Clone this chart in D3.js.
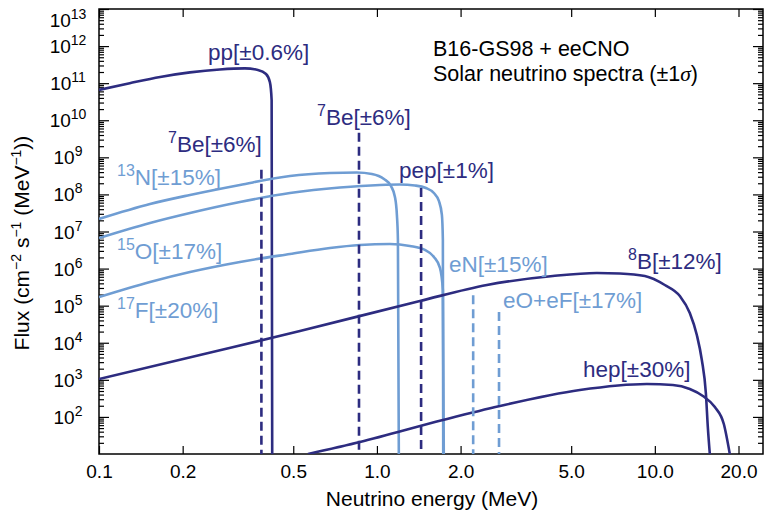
<!DOCTYPE html>
<html>
<head>
<meta charset="utf-8">
<script src="https://cdn.jsdelivr.net/npm/d3@7"></script>
<style>
  body { margin: 0; background: #fff; }
  text { font-family: "Liberation Sans", Arial, sans-serif; }
</style>
</head>
<body>
<div class="chart-container"></div>
<script>
//! CONSTS
const WIDTH = 765
const HEIGHT = 515
const LEFT = 99, RIGHT = 763, TOP = 9, BOTTOM = 454
const DARK = '#2d2c80'
const LIGHT = '#6f9dd3'

//! DATA  (energy in MeV, flux in cm^-2 s^-1 MeV^-1)
const ppE = [0.1, 0.129, 0.166, 0.2125, 0.272, 0.335, 0.373, 0.399, 0.412, 0.418, 0.42]
const ppFlux = [6.6e10, 1.0e11, 1.47e11, 1.95e11, 2.34e11, 2.5e11, 2.27e11, 1.77e11, 1.07e11, 3.5e10, 10]

const n13E = [0.1, 0.1526, 0.2125, 0.3215, 0.4865, 0.6776, 0.847, 0.959, 1.06, 1.123, 1.161, 1.18, 1.19, 1.199]
const n13Flux = [2.18e7, 5.52e7, 9.66e7, 1.8e8, 3.14e8, 3.78e8, 3.91e8, 3.56e8, 2.61e8, 1.69e8, 8.53e7, 2.79e7, 5.9e6, 10]

const o15E = [0.1, 0.1526, 0.2125, 0.3215, 0.4865, 0.736, 1.025, 1.21, 1.37, 1.501, 1.603, 1.671, 1.713, 1.727, 1.732]
const o15Flux = [6.68e6, 1.7e7, 3.16e7, 6.25e7, 1.09e8, 1.54e8, 1.8e8, 1.85e8, 1.74e8, 1.49e8, 1.09e8, 6.66e7, 2.79e7, 5.9e6, 10]

const f17E = [0.1, 0.1526, 0.2125, 0.3215, 0.4865, 0.6776, 0.8688, 1.114, 1.314, 1.488, 1.603, 1.686, 1.727, 1.74]
const f17Flux = [1.71e5, 4.36e5, 8.09e5, 1.51e6, 2.48e6, 3.6e6, 4.33e6, 4.6e6, 4.06e6, 3.18e6, 2.06e6, 1.04e6, 2.65e5, 10]

const b8E = [0.1, 0.2308, 0.5285, 1.428, 2.487, 4.296, 6.185, 7.482, 9.205, 10.86, 12.3, 13.36, 14.16, 14.76, 15.26, 15.51, 15.77]
const b8Flux = [1.05e3, 4.68e3, 2.07e4, 1.34e5, 3.61e5, 6.31e5, 7.6e5, 7.38e5, 6.31e5, 3.61e5, 1.82e5, 6.35e4, 1.62e4, 3.43e3, 442, 53.5, 10]

const hepE = [0.5647, 0.8688, 1.727, 2.77, 5.372, 9.355, 11.61, 13.36, 14.89, 16.44, 17.71, 18.61]
const hepFlux = [10, 21.1, 82.6, 197, 532, 773, 726, 566, 366, 185, 64.4, 10]

// mono-energetic lines: 7Be, 7Be, pep, eN, eO+eF
const lineE = [0.384, 0.862, 1.442, 2.22, 2.75]
const lineFlux = [4.6e8, 4.6e9, 1.5e8, 1.9e5, 6.8e4]

const xTicks = [0.1, 0.2, 0.5, 1, 2, 5, 10, 20]
const xTickLabels = ['0.1', '0.2', '0.5', '1.0', '2.0', '5.0', '10.0', '20.0']
const yExponents = [2, 3, 4, 5, 6, 7, 8, 9, 10, 11, 12, 13]

//! SVG
const svg = d3.select('.chart-container')
  .append('svg')
  .attr('width', WIDTH)
  .attr('height', HEIGHT)

//! SCALES
const x = d3.scaleLog().domain([0.1, 24.5]).range([LEFT, RIGHT])
const y = d3.scaleLog().domain([10, 1e13]).range([BOTTOM, TOP])

svg.append('clipPath').attr('id', 'plot')
  .append('rect')
  .attr('x', LEFT).attr('y', TOP)
  .attr('width', RIGHT - LEFT).attr('height', BOTTOM - TOP)

// minor ticks 2..9 of every decade
const minor = []
for (let e = 1; e < 13; e++) for (let m = 2; m < 10; m++) minor.push(m * Math.pow(10, e))

// text with superscripts: parts = [[string, isSup], ...]
function supText(g, parts, size, supSize, rise) {
  parts.forEach(([s, sup], i) => {
    const prevSup = i > 0 && parts[i - 1][1]
    const ts = g.append('tspan').text(s)
    if (sup) ts.attr('font-size', supSize).attr('dy', -rise)
    else if (prevSup) ts.attr('dy', rise)
  })
  return g
}

//! AXES
function styleAxis(g) {
  g.select('.domain').remove()
  g.selectAll('line').attr('stroke', '#000').attr('stroke-width', 1.2)
}

svg.append('g')
  .attr('transform', `translate(0,${BOTTOM})`)
  .call(d3.axisBottom(x).tickValues(xTicks).tickSize(-8).tickPadding(10.5)
    .tickFormat((d, i) => xTickLabels[i]))
  .call(styleAxis)
  .call(g => g.selectAll('text')
    .attr('font-size', 19).attr('fill', '#000')
    .style('font-family', '"Liberation Sans", Arial, sans-serif'))

svg.append('g')
  .attr('transform', `translate(0,${TOP})`)
  .call(d3.axisTop(x).tickValues(xTicks).tickSize(-8).tickFormat(''))
  .call(styleAxis)

;[[d3.axisLeft, LEFT], [d3.axisRight, RIGHT]].forEach(([ax, pos]) => {
  svg.append('g')
    .attr('transform', `translate(${pos},0)`)
    .call(ax(y).tickValues(yExponents.map(e => Math.pow(10, e))).tickSize(-10).tickFormat(''))
    .call(styleAxis)
  svg.append('g')
    .attr('transform', `translate(${pos},0)`)
    .call(ax(y).tickValues(minor).tickSize(-5).tickFormat(''))
    .call(styleAxis)
})

// y tick labels 10^n
yExponents.forEach(e => {
  const t = svg.append('text')
    .attr('x', 68)
    .attr('y', Math.max(y(Math.pow(10, e)), 20) + 7)
    .attr('text-anchor', 'middle')
    .attr('font-size', 19)
  supText(t, [['10', false], [String(e), true]], 19, 14, 8)
})

// frame
svg.append('rect')
  .attr('x', LEFT).attr('y', TOP)
  .attr('width', RIGHT - LEFT).attr('height', BOTTOM - TOP)
  .attr('fill', 'none').attr('stroke', '#000').attr('stroke-width', 1.5)

//! CURVES
const line = d3.line()
  .x(d => x(d[0]))
  .y(d => y(d[1]))
  .curve(d3.curveMonotoneX)

const plot = svg.append('g').attr('clip-path', 'url(#plot)')

const spectra = [
  [ppE, ppFlux, DARK],
  [n13E, n13Flux, LIGHT],
  [o15E, o15Flux, LIGHT],
  [f17E, f17Flux, LIGHT],
  [b8E, b8Flux, DARK],
  [hepE, hepFlux, DARK]
]

plot.selectAll('path.spectrum')
  .data(spectra)
  .enter()
  .append('path')
  .attr('class', 'spectrum')
  .attr('d', d => line(d3.zip(d[0], d[1])))
  .attr('fill', 'none')
  .attr('stroke', d => d[2])
  .attr('stroke-width', 2.6)

const lineColors = [DARK, DARK, DARK, LIGHT, LIGHT]
plot.selectAll('line.mono')
  .data(lineE)
  .enter()
  .append('line')
  .attr('class', 'mono')
  .attr('x1', d => x(d)).attr('x2', d => x(d))
  .attr('y1', (d, i) => y(lineFlux[i]))
  .attr('y2', y(10))
  .attr('stroke', (d, i) => lineColors[i])
  .attr('stroke-width', 2.6)
  .attr('stroke-dasharray', '9,5')

//! LABELS
const labels = [
  [[['pp[±0.6%]', false]], 208, 60, DARK],
  [[['7', true], ['Be[±6%]', false]], 168, 152, DARK],
  [[['7', true], ['Be[±6%]', false]], 317, 125, DARK],
  [[['pep[±1%]', false]], 399, 178, DARK],
  [[['13', true], ['N[±15%]', false]], 117, 185, LIGHT],
  [[['15', true], ['O[±17%]', false]], 117, 259, LIGHT],
  [[['17', true], ['F[±20%]', false]], 117, 318, LIGHT],
  [[['eN[±15%]', false]], 449, 272, LIGHT],
  [[['eO+eF[±17%]', false]], 503, 308, LIGHT],
  [[['8', true], ['B[±12%]', false]], 628, 269, DARK],
  [[['hep[±30%]', false]], 583, 377, DARK]
]

labels.forEach(([parts, lx, ly, col]) => {
  const t = svg.append('text')
    .attr('x', lx).attr('y', ly)
    .attr('font-size', 22.5)
    .attr('fill', col)
  supText(t, parts, 22.5, 16, 9)
})

svg.append('text')
  .attr('x', 433).attr('y', 56)
  .attr('font-size', 21.5)
  .text('B16-GS98 + eeCNO')

const sol = svg.append('text')
  .attr('x', 433).attr('y', 81)
  .attr('font-size', 21.5)
sol.append('tspan').text('Solar neutrino spectra (±1')
sol.append('tspan').text('σ').attr('font-style', 'italic').style('font-family', '"Liberation Serif", serif')
sol.append('tspan').text(')')

// axis titles
svg.append('text')
  .attr('x', 432).attr('y', 506)
  .attr('text-anchor', 'middle')
  .attr('font-size', 21)
  .text('Neutrino energy (MeV)')

const yt = svg.append('text')
  .attr('transform', 'translate(29,243) rotate(-90)')
  .attr('text-anchor', 'middle')
  .attr('font-size', 21)
supText(yt, [['Flux (cm', false], ['−2', true], [' s', false], ['−1', true], [' (MeV', false], ['−1', true], ['))', false]], 21, 14, 8)
</script>
</body>
</html>
